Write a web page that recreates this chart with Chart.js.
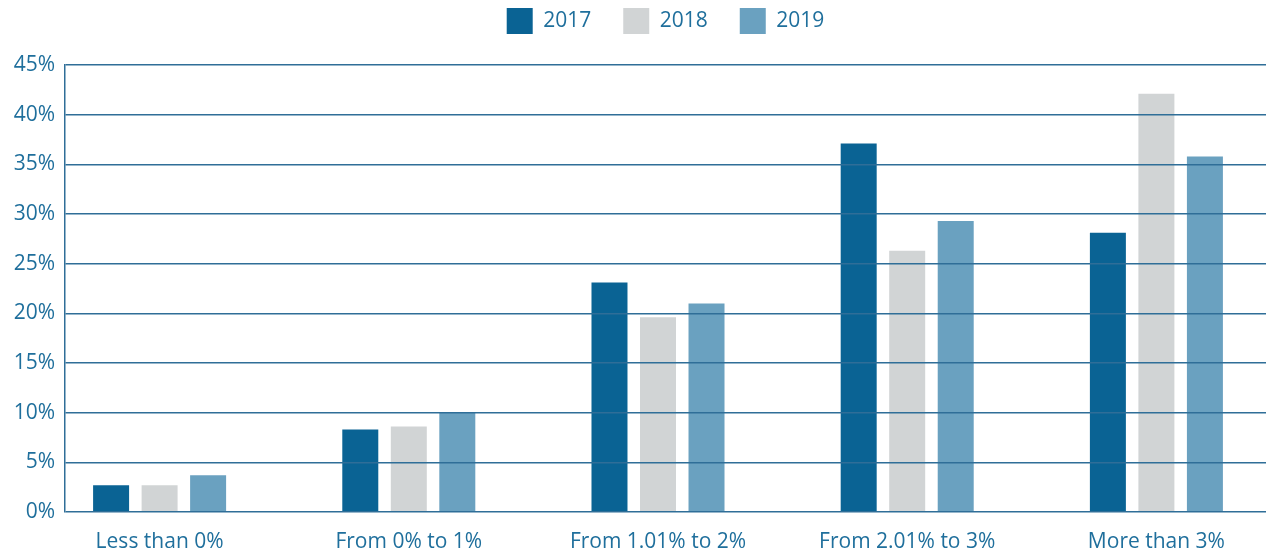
<!DOCTYPE html>
<html>
<head>
<meta charset="utf-8">
<script src="https://cdn.jsdelivr.net/npm/chart.js@4"></script>
<style>
  html, body { margin: 0; padding: 0; background: #fff; }
  #wrap { width: 1266px; height: 557px; }
</style>
</head>
<body>
<div id="wrap"><canvas id="chart" width="1266" height="557"></canvas></div>
<script>
// categories and series
const categories = ["Less than 0%", "From 0% to 1%", "From 1.01% to 2%", "From 2.01% to 3%", "More than 3%"];
const years = ["2017", "2018", "2019"];
const values2017 = [2.7, 8.3, 23.1, 37.1, 28.1];
const values2018 = [2.7, 8.6, 19.6, 26.3, 42.1];
const values2019 = [3.7, 10.0, 21.0, 29.3, 35.8];
const yTicks = [0, 5, 10, 15, 20, 25, 30, 35, 40, 45];

const textBlue = "#1f6f9c";
const lineBlue = "#2f6e98";
const colors = ["#0a6394", "#d1d4d5", "#6aa1c0"];
const fontFamily = "'Open Sans', sans-serif";

const series = [values2017, values2018, values2019];

// extra space between the legend and the plot
const legendGap = {
    id: "legendGap",
    beforeLayout: function (chart) {
        const lg = chart.legend;
        if (lg && !lg._gapPatched) {
            const fit = lg.fit;
            lg.fit = function () {
                fit.call(this);
                this.height += 21;
            };
            lg._gapPatched = true;
        }
    },
    // the groups in the original sit a bit wider than the plot area
    afterLayout: function (chart) {
        const x = chart.scales.x;
        x.left = 35;
        x.right = 1281;
        x.width = x.right - x.left;
        x.configure();
    }
};

const ctx = document.getElementById("chart").getContext("2d");
const chart = new Chart(ctx, {
    type: "bar",
    data: {
        labels: categories,
        datasets: years.map(function (y, i) {
            return {
                label: y,
                data: series[i],
                backgroundColor: colors[i],
                borderWidth: 0,
                categoryPercentage: 0.584,
                barPercentage: 0.742
            };
        })
    },
    options: {
        responsive: false,
        animation: false,
        layout: { padding: { left: 0, right: 0, top: -24, bottom: 0 } },
        plugins: {
            tooltip: { enabled: false },
            legend: {
                position: "top",
                fullSize: false,
                labels: {
                    boxWidth: 26,
                    boxHeight: 26,
                    padding: 32,
                    color: textBlue,
                    font: { family: fontFamily, size: 21 }
                }
            }
        },
        scales: {
            x: {
                grid: { display: false, drawTicks: false },
                border: { display: false },
                ticks: {
                    color: textBlue,
                    padding: 17,
                    font: { family: fontFamily, size: 21 }
                },
                afterFit: function (scale) { scale.height = 45; }
            },
            y: {
                min: 0,
                max: 45,
                afterBuildTicks: function (scale) {
                    scale.ticks = yTicks.map(function (v) { return { value: v }; });
                },
                grid: {
                    color: lineBlue,
                    lineWidth: 1.5,
                    drawTicks: false,
                    z: 1
                },
                border: { display: true, color: lineBlue, width: 1.5, z: 1 },
                ticks: {
                    color: textBlue,
                    padding: 10,
                    font: { family: fontFamily, size: 21 },
                    callback: function (v) { return v + "%"; }
                },
                afterFit: function (scale) { scale.width = 65; }
            }
        }
    },
    plugins: [legendGap]
});
</script>
</body>
</html>
